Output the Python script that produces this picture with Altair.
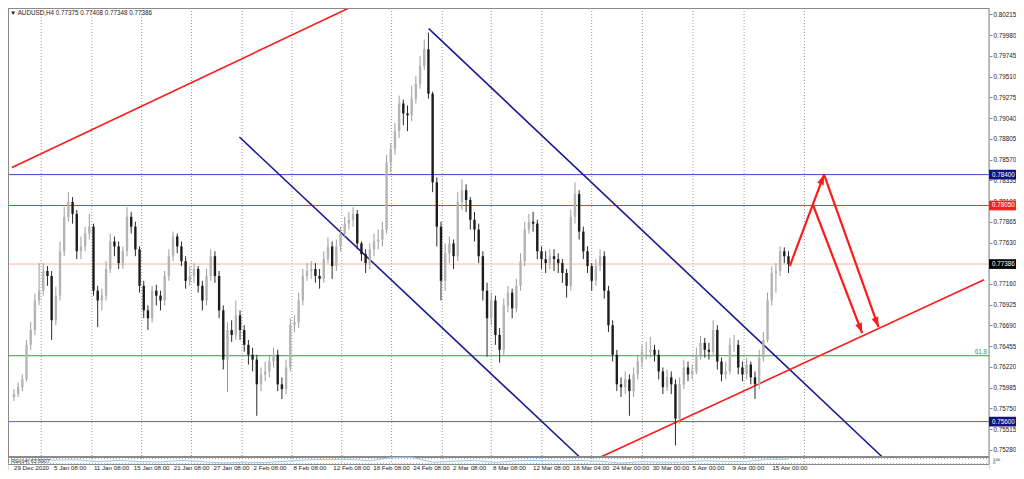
import altair as alt
import pandas as pd

FONT = "Liberation Sans"
TITLE_TEXT = "\u25bc AUDUSD,H4  0.77375 0.77408 0.77348 0.77386"
RSI_TEXT = "RSI(14) 63.6907"

# ---- candle data (prices in points, 1e-5) ----
first_open = 75879
closes = [
    75912, 75990, 76079, 76470, 76638, 76973, 77084, 77307, 77251, 76749,
    77028, 77531, 77921, 78089, 77955, 77531, 77586, 77732, 77810, 77084,
    76973, 77028, 77330, 77642, 77586, 77397, 77531, 77921, 77810, 77553,
    77140, 76861, 76772, 77084, 77028, 76973, 77251, 77475, 77698, 77586,
    77419, 77196, 77251, 77330, 77140, 76973, 77251, 77475, 77251, 76861,
    76303, 76638, 76582, 76805, 76638, 76470, 76358, 76303, 76023, 76135,
    76169, 76281, 76358, 76023, 75968, 76214, 76693, 76727, 76973, 77251,
    77307, 77330, 77251, 77218, 77442, 77586, 77363, 77586, 77732, 77844,
    77888, 77955, 77620, 77498, 77397, 77553, 77642, 77665, 77777, 78536,
    78692, 78893, 79206, 79094, 79072, 79261, 79429, 79630, 79820, 79317,
    78312, 77810, 77196, 77509, 77620, 77475, 78089, 78223, 78112, 77888,
    77777, 77475, 77084, 76772, 76973, 76582, 76414, 76917, 77062, 76884,
    77140, 77419, 77777, 77866, 77844, 77531, 77442, 77397, 77475, 77442,
    77397, 77285, 77140, 77921, 78179, 77754, 77531, 77363, 77196, 77363,
    77475, 77084, 76693, 76358, 76023, 75990, 76079, 75946, 76135, 76281,
    76392, 76392, 76414, 76358, 76169, 75990, 76102, 76023, 75633, 76023,
    76214, 76135, 76169, 76358, 76493, 76414, 76392, 76638, 76281, 76135,
    76169, 76470, 76470, 76214, 76135, 76247, 76102, 76023, 76325, 76526,
    76973, 77285, 77307, 77531, 77475, 77386,
]
highs = [
    75968, 76046, 76135, 76526, 76727, 77051, 77397, 77397, 77363, 77307,
    77129, 77642, 78033, 78201, 78145, 78000, 77698, 77810, 77955, 77844,
    77140, 77107, 77419, 77732, 77698, 77642, 77586, 78033, 77977, 77866,
    77586, 77196, 76917, 77140, 77151, 77084, 77307, 77553, 77754, 77732,
    77642, 77475, 77363, 77397, 77363, 77196, 77330, 77553, 77531, 77307,
    76917, 76727, 76749, 76973, 76861, 76693, 76526, 76437, 76358, 76214,
    76281, 76358, 76437, 76414, 76102, 76303, 76772, 76805, 77062, 77330,
    77397, 77419, 77397, 77330, 77531, 77687, 77642, 77665, 77810, 77921,
    77977, 78033, 78000, 77642, 77553, 77620, 77732, 77777, 77866, 78625,
    78759, 78982, 79295, 79250, 79184, 79407, 79519, 79742, 79931, 80010,
    79340, 78368, 77866, 77620, 77698, 77665, 78201, 78346, 78290, 78145,
    77977, 77844, 77531, 77174, 77062, 77028, 76660, 76995, 77140, 77107,
    77218, 77509, 77866, 77955, 77977, 77888, 77586, 77531, 77553, 77553,
    77509, 77442, 77330, 78000, 78312, 78223, 77810, 77586, 77397, 77442,
    77553, 77531, 77140, 76749, 76414, 76102, 76169, 76135, 76214, 76358,
    76470, 76504, 76560, 76470, 76414, 76214, 76191, 76169, 76079, 76102,
    76303, 76281, 76247, 76437, 76571, 76549, 76493, 76749, 76693, 76325,
    76281, 76549, 76582, 76526, 76281, 76325, 76281, 76169, 76414, 76616,
    77062, 77363, 77397, 77586, 77575, 77531,
]
lows = [
    75834, 75879, 75946, 76057, 76414, 76582, 76917, 77028, 77140, 76526,
    76693, 76973, 77475, 77866, 77844, 77442, 77442, 77531, 77665, 77028,
    76671, 76861, 76973, 77285, 77475, 77330, 77330, 77475, 77732, 77475,
    77062, 76772, 76638, 76727, 76917, 76861, 76917, 77196, 77419, 77509,
    77363, 77107, 77140, 77174, 77062, 76861, 76917, 77196, 77174, 76772,
    76191, 75934, 76504, 76526, 76526, 76392, 76247, 76169, 75666, 75946,
    76057, 76102, 76214, 75946, 75856, 75912, 76169, 76616, 76660, 76917,
    77196, 77218, 77174, 77107, 77174, 77397, 77218, 77307, 77531, 77687,
    77777, 77810, 77553, 77419, 77285, 77330, 77475, 77553, 77586, 77732,
    78424, 78625, 78815, 78960, 78893, 79005, 79206, 79373, 79585, 79261,
    78201, 77586, 76973, 77084, 77397, 77330, 77419, 78000, 77977, 77777,
    77642, 77397, 76973, 76336, 76693, 76470, 76270, 76358, 76839, 76772,
    76839, 77084, 77363, 77732, 77754, 77442, 77330, 77285, 77330, 77307,
    77285, 77174, 77006, 77084, 77844, 77665, 77442, 77285, 77084, 77140,
    77307, 76995, 76616, 76281, 75946, 75879, 75912, 75666, 75879, 76079,
    76214, 76303, 76325, 76281, 76079, 75912, 75946, 75912, 75331, 75577,
    75968, 76057, 76079, 76135, 76303, 76325, 76303, 76358, 76191, 76057,
    76079, 76135, 76392, 76135, 76057, 76079, 76023, 75856, 75968, 76281,
    76504, 76917, 77062, 77251, 77397, 77285,
]

# ---- axis ticks / labels ----
price_ticks = [0.80215, 0.79980, 0.79745, 0.79510, 0.79275, 0.79040, 0.78805,
               0.78570, 0.78335, 0.78100, 0.77865, 0.77630, 0.77395, 0.77160,
               0.76925, 0.76690, 0.76455, 0.76220, 0.75985, 0.75750, 0.75515,
               0.75280]
grid_pos = [6.5, 18.6, 30.5, 42.4, 54.5, 66.4, 78.3, 90.2, 102.3, 114.0,
            126.1, 138.0, 150.1, 162.2, 174.4, 188.8]
date_pos = [0, 9.56, 19.09, 28.62, 38.16, 47.69, 57.22, 66.76, 76.29, 85.82,
            95.36, 104.89, 114.42, 123.96, 133.49, 143.02, 152.56, 162.09,
            171.62, 181.16]
date_labels = ["29 Dec 2020", "5 Jan 08:00", "11 Jan 08:00", "15 Jan 08:00",
               "21 Jan 08:00", "27 Jan 08:00", "2 Feb 08:00", "8 Feb 08:00",
               "12 Feb 08:00", "18 Feb 08:00", "24 Feb 08:00", "2 Mar 08:00",
               "8 Mar 08:00", "12 Mar 08:00", "18 Mar 04:00", "24 Mar 00:00",
               "30 Mar 00:00", "5 Apr 00:00", "9 Apr 00:00", "15 Apr 00:00"]

# ---- RSI(14) ----
rsi_pos = [0, 5, 10, 15, 20, 25, 30, 35, 40, 45, 50, 55, 60, 65, 70, 75, 80,
           85, 90, 95, 100, 105, 110, 115, 120, 125, 130, 135, 140, 145, 150,
           155, 160, 165, 170, 175, 180, 185]
rsi_vals = [42, 62, 58, 60, 45, 55, 45, 42, 55, 45, 33, 40, 38, 48, 60, 62, 64,
            52, 78, 80, 40, 48, 55, 38, 52, 55, 50, 55, 48, 32, 45, 40, 42, 52,
            45, 45, 65, 63.69]
rsi_levels = [30, 70]

# ---- horizontal levels ----
levels = [0.78400, 0.78050, 0.77386, 0.76347, 0.75600]
level_colors = ["#4646c0", "#ff2a2a", "#f6b4a6", "#3a9a44", "#5a5acc"]
box_levels = [0.78400, 0.78050, 0.77386, 0.75600]
box_texts = ["0.78400", "0.78050", "0.77386", "0.75600"]
box_fills = ["#12127e", "#ff1e1e", "#000000", "#12127e"]
fib_level = [0.76347]
fib_text = ["61.8"]

# ---- trend lines (candle index, price) ----
tl_id = ["r1", "r1", "b1", "b1", "b2", "b2", "r2", "r2"]
tl_c = [-0.47, 80.0, 53.85, 135.1, 99.07, 207.4, 140.15, 231.7]
tl_p = [0.78480, 0.80288, 0.78826, 0.75199, 0.80054, 0.75199, 0.75199, 0.77207]
tl_col = ["#ff1a1a", "#ff1a1a", "#1a1a96", "#1a1a96", "#1a1a96", "#1a1a96",
          "#ff1a1a", "#ff1a1a"]

# ---- projection arrows ----
ar_id = ["a1", "a1", "a2", "a2", "a3", "a3"]
ar_c = [185.3, 193.5, 190.9, 202.6, 193.5, 206.5]
ar_p = [0.77363, 0.78400, 0.78050, 0.76604, 0.78400, 0.76671]
head_c = [193.5, 202.6, 206.5]
head_p = [0.78400, 0.76604, 0.76671]
head_angle = [21, 159, 159]

# ---------------------------------------------------------------
opens = [first_open] + closes[:-1]
candles = pd.DataFrame({
    "c": list(range(len(closes))),
    "open": [v / 1e5 for v in opens],
    "close": [v / 1e5 for v in closes],
    "high": [v / 1e5 for v in highs],
    "low": [v / 1e5 for v in lows],
})
candles["up"] = candles["close"] >= candles["open"]

W = 981          # plot width
H = 462          # full height incl. RSI strip and date labels
RIGHT = 27       # room for the price scale
MAIN_B = 449     # bottom of the price panel (px)
RSI_T, RSI_B = 450, 456

xscale = alt.Scale(domain=[-0.23, 231.7], nice=False, zero=False)
yscale = alt.Scale(domain=[0.750516, 0.802885], nice=False, zero=False)
rscale = alt.Scale(domain=[-25.0, 3825.0], nice=False, zero=False)
yaxis = alt.Axis(orient="right", values=price_ticks, format=".5f", title=None,
                 grid=False, domain=False, tickSize=3, tickColor="#8a8a8a",
                 labelFont=FONT, labelFontSize=6.3, labelColor="#222222",
                 labelPadding=1, labelBaseline="middle")

def X(f):
    return alt.X(f, type="quantitative", scale=xscale, axis=None)

def Y(f, axis=None):
    return alt.Y(f, type="quantitative", scale=yscale, axis=axis)

def R(f):
    return alt.Y(f, type="quantitative", scale=rscale, axis=None)

grid_df = pd.DataFrame({"c": grid_pos})
grid = alt.Chart(grid_df).mark_rule(color="#9a9a9a", strokeDash=[1, 2], strokeWidth=1).encode(
    x=X("c"), y=alt.value(0), y2=alt.value(RSI_B))

lv_df = pd.DataFrame({"p": levels, "col": level_colors})
hlines = alt.Chart(lv_df).mark_rule(strokeWidth=1).encode(
    x=alt.value(0), x2=alt.value(W), y=Y("p"), color=alt.Color("col:N", scale=None))

tl_df = pd.DataFrame({"id": tl_id, "c": tl_c, "p": tl_p, "col": tl_col})
trend = alt.Chart(tl_df).mark_line(strokeWidth=1.6, clip=True).encode(
    x=X("c"), y=Y("p"), detail="id:N", color=alt.Color("col:N", scale=None))

wicks = alt.Chart(candles).mark_rule(strokeWidth=1).encode(
    x=X("c"), y=Y("low", yaxis), y2="high",
    color=alt.condition("datum.up", alt.value("#9c9c9c"), alt.value("#2a2a2a")))

bodies = alt.Chart(candles).mark_bar(size=2.4).encode(
    x=X("c"), y=Y("open"), y2="close",
    color=alt.condition("datum.up", alt.value("#b4b4b4"), alt.value("#1c1c1c")))

ar_df = pd.DataFrame({"id": ar_id, "c": ar_c, "p": ar_p})
arrows = alt.Chart(ar_df).mark_line(color="#ff1a1a", strokeWidth=2.2).encode(
    x=X("c"), y=Y("p"), detail="id:N")

hd_df = pd.DataFrame({"c": head_c, "p": head_p, "ang": head_angle})
heads = alt.Chart(hd_df).mark_point(shape="M0,0L-0.7,2L0.7,2Z", filled=True, size=100,
                                    color="#ff1a1a", opacity=1).encode(
    x=X("c"), y=Y("p"), angle=alt.Angle("ang:Q", scale=None))

bx_df = pd.DataFrame({"p": box_levels, "t": box_texts, "fill": box_fills})
bx_df["p1"] = bx_df["p"] + 0.00055
bx_df["p2"] = bx_df["p"] - 0.00055
boxes = alt.Chart(bx_df).mark_rect(clip=False).encode(
    x=alt.value(W), x2=alt.value(W + RIGHT), y=Y("p1"), y2="p2",
    color=alt.Color("fill:N", scale=None))
box_txt = alt.Chart(bx_df).mark_text(align="left", baseline="middle", font=FONT,
                                     fontSize=6.3, color="white", clip=False).encode(
    x=alt.value(W + 3), y=Y("p"), text="t:N")

fib_df = pd.DataFrame({"p": fib_level, "t": fib_text})
fib = alt.Chart(fib_df).mark_text(align="right", baseline="bottom", font=FONT, fontSize=6.3,
                                  color="#3a9a44", dy=-1).encode(
    x=alt.value(W - 2), y=Y("p"), text="t:N")

title = alt.Chart(pd.DataFrame({"t": [TITLE_TEXT]})).mark_text(
    align="left", baseline="middle", font=FONT, fontSize=6.3, color="#222222").encode(
    x=alt.value(2), y=alt.value(5), text="t:N")

# frame lines
frame_h = alt.Chart(pd.DataFrame({"yy": [0.5, MAIN_B, RSI_B + 0.5], "w": [1, 2, 1]})).mark_rule(
    color="#8a8a8a").encode(
    x=alt.value(0), x2=alt.value(W), y=alt.Y("yy:Q", scale=None),
    strokeWidth=alt.StrokeWidth("w:Q", scale=None))
frame_v = alt.Chart(pd.DataFrame({"xx": [0.5, W]})).mark_rule(color="#8a8a8a").encode(
    x=alt.X("xx:Q", scale=None), y=alt.value(0), y2=alt.value(RSI_B + 0.5))

# RSI strip
rsi_df = pd.DataFrame({"c": rsi_pos, "r": rsi_vals})
rlev = alt.Chart(pd.DataFrame({"r": rsi_levels})).mark_rule(
    color="#b0b0b0", strokeDash=[1, 2]).encode(
    x=alt.value(0), x2=alt.value(W), y=R("r"))
rline = alt.Chart(rsi_df).mark_line(color="#8ccaf7", strokeWidth=1).encode(
    x=X("c"), y=R("r"))
rlabel = alt.Chart(pd.DataFrame({"t": [RSI_TEXT]})).mark_text(
    align="left", baseline="middle", font=FONT, fontSize=5.3, color="#333333").encode(
    x=alt.value(3), y=alt.value(RSI_T + 2.5), text="t:N")
rright = alt.Chart(pd.DataFrame({"t": ["100", "0"], "yy": [RSI_T + 1.5, RSI_B - 1.0]})).mark_text(
    align="left", baseline="middle", font=FONT, fontSize=4.3, color="#333333").encode(
    x=alt.value(W + 4), y=alt.Y("yy:Q", scale=None), text="t:N")

dl_df = pd.DataFrame({"c": date_pos, "t": date_labels})
dlabels = alt.Chart(dl_df).mark_text(align="left", baseline="middle", font=FONT,
                                     fontSize=6.2, color="#222222").encode(
    x=X("c"), y=alt.value(RSI_B + 3.8), text="t:N")

chart = alt.layer(
    grid, hlines, trend, wicks, bodies, arrows, heads, frame_h, frame_v,
    boxes, box_txt, fib, title, rlev, rline, rlabel, rright, dlabels,
).resolve_scale(y="independent").properties(
    width=W, height=H,
    autosize=alt.AutoSizeParams(type="none"),
    padding={"left": 0, "top": 0, "right": RIGHT, "bottom": 0},
    background="white",
).configure_view(stroke=None).configure(font=FONT)

chart.save("out.html", embed_options={"renderer": "svg", "actions": False})
